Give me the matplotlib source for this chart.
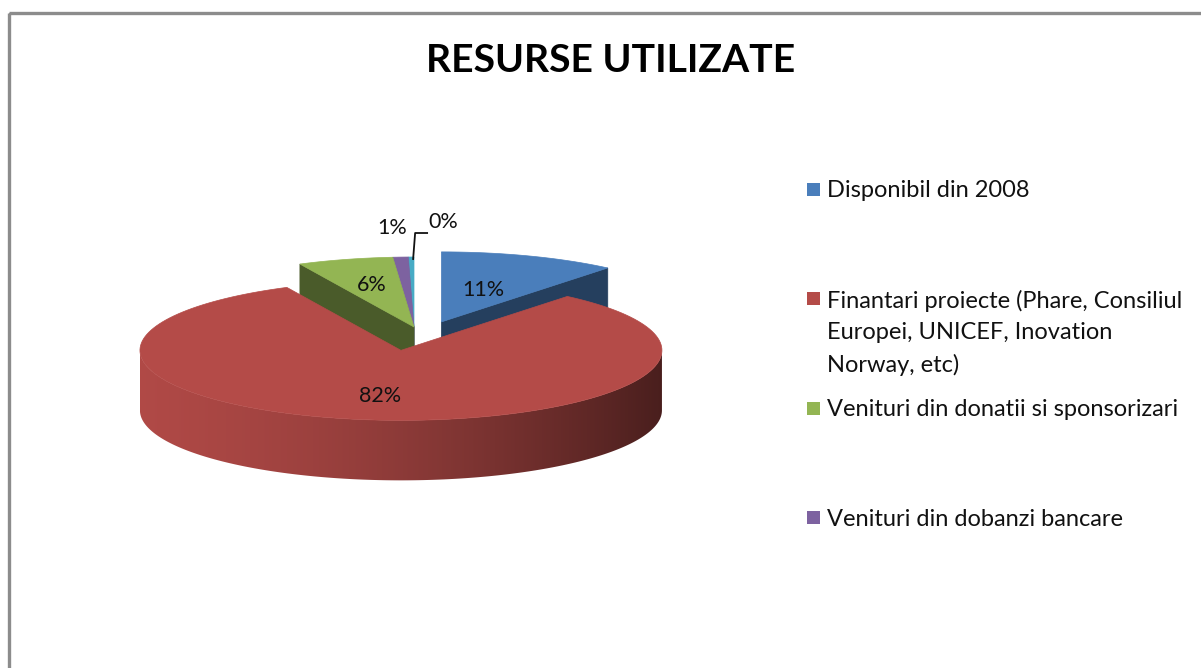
import numpy as np
import matplotlib
matplotlib.use("Agg")
import matplotlib.pyplot as plt
from matplotlib.patches import Polygon, Rectangle
from matplotlib.colors import to_rgb

plt.rcParams['font.family'] = ['Lato', 'DejaVu Sans']

TITLE = "RESURSE UTILIZATE"
categories = [
    "Disponibil din 2008",
    "Finantari proiecte (Phare, Consiliul\nEuropei, UNICEF, Inovation\nNorway, etc)",
    "Venituri din donatii si sponsorizari",
    "Venituri din dobanzi bancare",
    "Alte venituri",
]
values = [11.0, 81.8, 5.9, 0.95, 0.35]
colors = ["#4a7ebb", "#b44b48", "#93b553", "#7d62a0", "#47abc5"]
explode = [0.31, 0.42, 0.0, 0.0, 0.0]
legend_shown = 4

# layout of the pseudo-3D pie, in pixels
CX, CY = 414, 327
RX, RY, DEPTH = 261, 70, 60
EXPLODE_Y_BACK, EXPLODE_Y_FRONT = 0.25, 0.8   # cheap perspective
SIDE_SHADE = 0.5

fig = plt.figure(figsize=(12.01, 6.68), dpi=100)
ax = fig.add_axes([0, 0, 1, 1])
ax.set_xlim(0, 1201)
ax.set_ylim(668, 0)
ax.axis('off')

# chart frame
ax.add_patch(Rectangle((8.5, 13), 1400, 1000, fill=False, ec="#8c8c8c", lw=2.4))


def shade(c, f):
    return tuple(min(1, v * f) for v in to_rgb(c))


def wall_factor(s):
    # s: 0 at the left edge of the pie, 1 at the right edge
    return 0.98 - 0.23 * s - 0.34 * s ** 2


frac = np.array(values) / sum(values)
ends = np.cumsum(frac) * 2 * np.pi
starts = ends - frac * 2 * np.pi
mids = (starts + ends) / 2

slices = []
for i in range(len(values)):
    c = np.cos(mids[i])
    ey = EXPLODE_Y_BACK if c > 0 else EXPLODE_Y_FRONT
    ox = CX + explode[i] * RX * np.sin(mids[i])
    oy = CY - explode[i] * RY * ey * c
    slices.append((i, ox, oy))


def rim(t, ox, oy, r=1.0, z=0.0):
    return ox + r * RX * np.sin(t), oy - r * RY * np.cos(t) + z


# back slices first
for i, ox, oy in sorted(slices, key=lambda s: -np.cos(mids[s[0]])):
    a0, a1 = starts[i], ends[i]
    side = shade(colors[i], SIDE_SHADE)
    # radial faces
    if np.cos(a0 - np.pi / 2) < 0:
        x, y = rim(a0, ox, oy)
        ax.add_patch(Polygon([(ox, oy), (x, y), (x, y + DEPTH), (ox, oy + DEPTH)],
                             closed=True, fc=side, ec=side, lw=0.5))
    if np.cos(a1 + np.pi / 2) < 0:
        x, y = rim(a1, ox, oy)
        ax.add_patch(Polygon([(ox, oy), (x, y), (x, y + DEPTH), (ox, oy + DEPTH)],
                             closed=True, fc=side, ec=side, lw=0.5))
    # outer wall, front half only, with a left-to-right shading
    w0, w1 = max(a0, np.pi / 2), min(a1, 1.5 * np.pi)
    if w1 > w0:
        ts = np.linspace(w0, w1, 200)
        top = [rim(t, ox, oy) for t in ts]
        bot = [rim(t, ox, oy, z=DEPTH) for t in ts[::-1]]
        wall = Polygon(top + bot, closed=True, fc='none', ec='none')
        ax.add_patch(wall)
        s = np.linspace(0, 1, 400)
        grad = np.array([shade(colors[i], wall_factor(v)) for v in s])[None, :, :]
        im = ax.imshow(grad, extent=(ox - RX, ox + RX, oy + RY + DEPTH + 2, oy - 2),
                       aspect='auto', interpolation='bilinear')
        im.set_clip_path(wall)
        ax.set_xlim(0, 1201)
        ax.set_ylim(668, 0)
    # top face
    ts = np.linspace(a0, a1, max(3, int(200 * frac[i])))
    pts = [(ox, oy)] + [rim(t, ox, oy) for t in ts]
    ax.add_patch(Polygon(pts, closed=True, fc=colors[i], ec=colors[i], lw=0.5))

# data labels
label_r = [0.48, 0.66, 0.62]
for i, ox, oy in slices:
    txt = f"{values[i]:.0f}%"
    if i < len(label_r):
        x, y = rim(mids[i], ox, oy, r=label_r[i])
        ax.text(x, y, txt, ha='center', va='center', fontsize=15.5, color="#111111")
    else:
        x, y = rim(mids[i], ox, oy, r=1.0)
        if i == 3:
            ax.text(x + 7, y - 29, txt, ha='right', va='center', fontsize=15.5, color="#111111")
        else:
            ax.plot([x + 2, x + 4, x + 16], [y + 2, y - 24, y - 24], color="#111111", lw=1.3)
            ax.text(x + 17, y - 35, txt, ha='left', va='center', fontsize=15.5, color="#111111")

ax.text(611, 61, TITLE, ha='center', va='center', fontsize=28.2, fontweight='bold', color="#000000")

# legend
for k in range(legend_shown):
    yc = 189 + k * 109.5
    ax.add_patch(Rectangle((807, yc - 6.5), 13, 13, fc=colors[k], ec='none'))
    ax.text(827, yc - 9, categories[k], ha='left', va='top', fontsize=17,
            linespacing=1.6, color="#111111")

fig.savefig("out.png", dpi=100)
